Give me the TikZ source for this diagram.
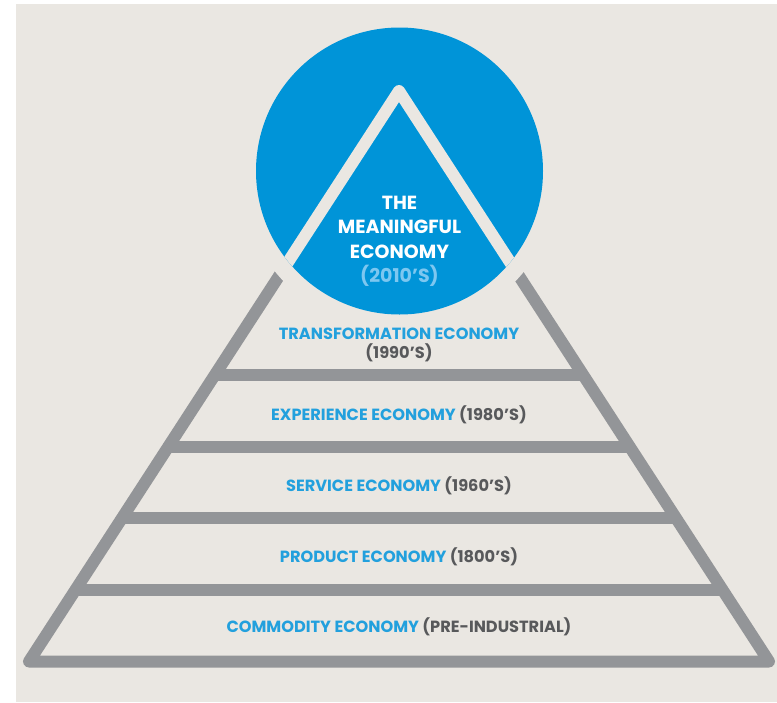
\documentclass[tikz,border=0pt]{standalone}
\usepackage{fontspec}
\setmainfont{Poppins}
\usetikzlibrary{shapes,arrows,calc}
\definecolor{paper}{RGB}{234,231,226}
\definecolor{wallgray}{RGB}{147,149,152}
\definecolor{capblue}{RGB}{0,148,216}
\definecolor{labelblue}{RGB}{34,160,221}
\definecolor{eragray}{RGB}{88,89,91}
\definecolor{paleblue}{RGB}{125,199,240}
\tikzstyle{wall} = [draw=wallgray, line width=12pt, line join=round, line cap=round]
\tikzstyle{layer} = [text=labelblue, font=\fontsize{16.2}{19}\selectfont\bfseries, text height=0.7em, text depth=0pt, inner sep=0pt]
\tikzstyle{era} = [layer, text=eragray]
\tikzstyle{crest} = [text=white, font=\fontsize{19}{24}\selectfont\bfseries, text height=0.7em, text depth=0pt, inner sep=0pt]

\begin{document}
\begin{tikzpicture}[x=1pt, y=-1pt, node distance=70.8pt]
    \useasboundingbox (0,0) rectangle (777,702);
    \fill[paper] (16,4) rectangle (777,702);
    \coordinate (apex) at (399,91);
    \coordinate (left) at (29,661.5);
    \coordinate (right) at (769,661.5);
    \coordinate (hub) at (399.5,171);
    % grey pyramid and its floors
    \draw[wall] (left) -- (apex) -- (right) -- cycle;
    \foreach \t in {0.498,0.6235,0.749,0.8745}
        \draw[wall, line cap=butt] ($(apex)!\t!(left)$) -- ($(apex)!\t!(right)$);
    % blue top
    \fill[paper] (hub) circle (160pt);
    \fill[capblue] (hub) circle (143.5pt);
    \begin{scope}
        \clip (hub) circle (143.5pt);
        \draw[wall, draw=paper] (left) -- (apex) -- (right);
    \end{scope}
    \node[crest] (the) at (399.5,206) {THE};
    \node[crest, below of=the, node distance=24.3pt] (meaningful) {MEANINGFUL};
    \node[crest, below of=meaningful, node distance=24.3pt] (economy) {ECONOMY};
    \node[crest, text=paleblue, below of=economy, node distance=24.3pt] (decade) {(2010’S)};
    % floors
    \node[layer] (transform) at (399,336) {TRANSFORMATION ECONOMY};
    \node[era, below of=transform, node distance=19pt] (transyears) {(1990’S)};
    \node[layer] (experience) at (399,417) {EXPERIENCE ECONOMY \textcolor{eragray}{(1980’S)}};
    \node[layer, below of=experience] (service) {SERVICE ECONOMY \textcolor{eragray}{(1960’S)}};
    \node[layer, below of=service] (product) {PRODUCT ECONOMY \textcolor{eragray}{(1800’S)}};
    \node[layer, below of=product] (commodity) {COMMODITY ECONOMY \textcolor{eragray}{(PRE-INDUSTRIAL)}};
\end{tikzpicture}
\end{document}
